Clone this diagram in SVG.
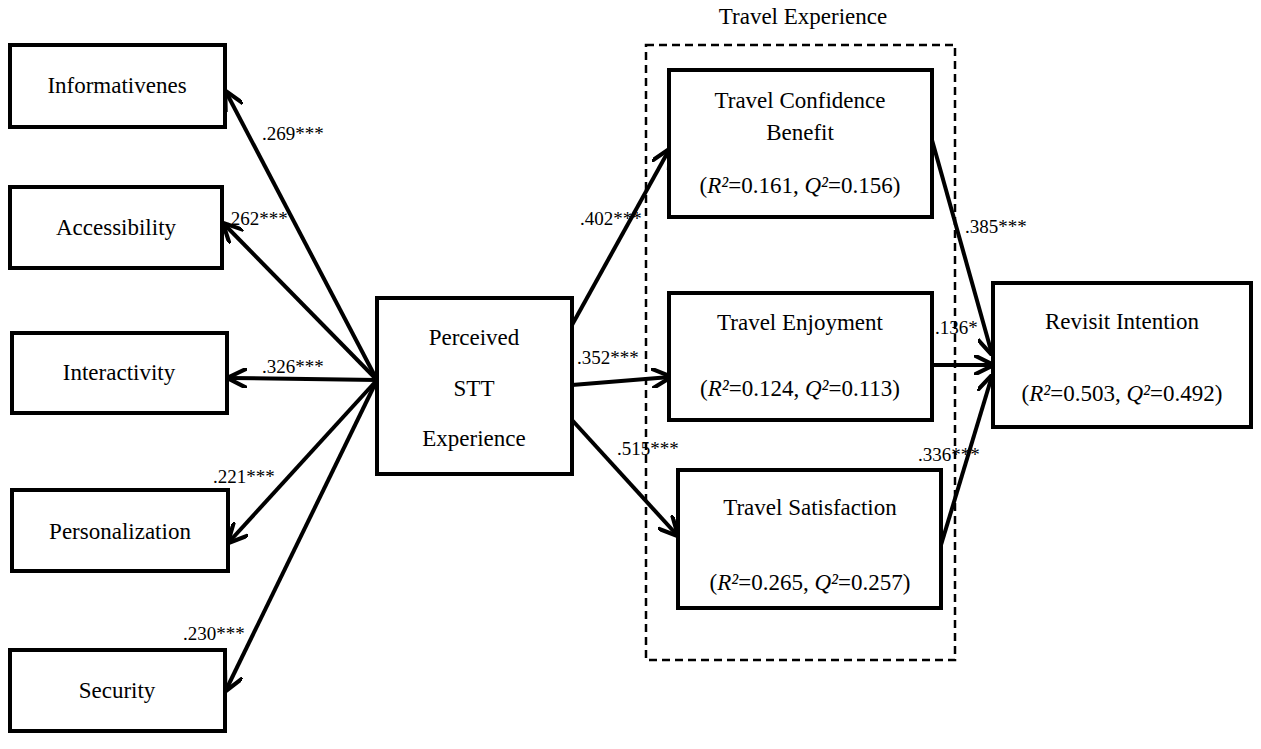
<svg xmlns="http://www.w3.org/2000/svg" width="1261" height="749" viewBox="0 0 1261 749">
<defs>
<style>
.b{fill:#fff;stroke:#000;stroke-width:4}
.t{font-family:'Liberation Serif','Times New Roman',Times,serif;font-size:23px;text-anchor:middle;fill:#000}
.l{font-family:'Liberation Serif','Times New Roman',Times,serif;font-size:19px;fill:#000}
.c{stroke:#000;stroke-width:4;fill:none;marker-end:url(#a)}
</style>
<marker id="a" viewBox="0 0 12 12" refX="11" refY="6" markerWidth="5" markerHeight="5" orient="auto" markerUnits="strokeWidth">
<path d="M0,0 L12,6 L0,12" fill="none" stroke="#000" stroke-width="2.5"/>
</marker>
</defs>
<rect x="646" y="45" width="309" height="615" fill="none" stroke="#000" stroke-width="2.5" stroke-dasharray="8,5"/>
<text class="t" x="803" y="24">Travel Experience</text>
<g id="connectors">
<line class="c" x1="377" y1="380" x2="226" y2="92"/>
<line class="c" x1="377" y1="380" x2="224" y2="224"/>
<line class="c" x1="377" y1="380" x2="229" y2="378"/>
<line class="c" x1="377" y1="380" x2="229" y2="542"/>
<line class="c" x1="377" y1="380" x2="226" y2="690"/>
<line class="c" x1="572" y1="325" x2="669" y2="150"/>
<line class="c" x1="572" y1="385" x2="670" y2="377"/>
<line class="c" x1="572" y1="420" x2="677" y2="535"/>
<line class="c" x1="932" y1="140" x2="992" y2="354"/>
<line class="c" x1="932" y1="365" x2="992" y2="365"/>
<line class="c" x1="941" y1="545" x2="992" y2="376"/>
</g>
<g id="labels">
<text class="l" x="262" y="140">.269***</text>
<text class="l" x="226" y="225">.262***</text>
<text class="l" x="262" y="373">.326***</text>
<text class="l" x="213" y="483">.221***</text>
<text class="l" x="183" y="640">.230***</text>
<text class="l" x="580" y="225">.402***</text>
<text class="l" x="577" y="364">.352***</text>
<text class="l" x="617" y="455">.515***</text>
<text class="l" x="965" y="233">.385***</text>
<text class="l" x="935" y="334">.136*</text>
<text class="l" x="918" y="461">.336***</text>
</g>
<g id="informativenes"><rect class="b" x="10" y="45" width="215" height="82"/><text class="t" x="117" y="93">Informativenes</text></g>
<g id="accessibility"><rect class="b" x="10" y="187" width="212" height="81"/><text class="t" x="116" y="235">Accessibility</text></g>
<g id="interactivity"><rect class="b" x="12" y="333" width="215" height="80"/><text class="t" x="119" y="380">Interactivity</text></g>
<g id="personalization"><rect class="b" x="12" y="490" width="216" height="81"/><text class="t" x="120" y="539">Personalization</text></g>
<g id="security"><rect class="b" x="10" y="650" width="215" height="81"/><text class="t" x="117" y="698">Security</text></g>
<g id="stt"><rect class="b" x="377" y="298" width="195" height="176"/><text class="t" x="474" y="345">Perceived</text><text class="t" x="474" y="396">STT</text><text class="t" x="474" y="446">Experience</text></g>
<g id="confidence"><rect class="b" x="669" y="70" width="263" height="147"/><text class="t" x="800" y="108">Travel Confidence</text><text class="t" x="800" y="140">Benefit</text><text class="t" x="800" y="193">(<tspan font-style="italic">R²</tspan>=0.161, <tspan font-style="italic">Q²</tspan>=0.156)</text></g>
<g id="enjoyment"><rect class="b" x="669" y="293" width="263" height="127"/><text class="t" x="800" y="330">Travel Enjoyment</text><text class="t" x="800" y="396">(<tspan font-style="italic">R²</tspan>=0.124, <tspan font-style="italic">Q²</tspan>=0.113)</text></g>
<g id="satisfaction"><rect class="b" x="678" y="470" width="263" height="138"/><text class="t" x="810" y="515">Travel Satisfaction</text><text class="t" x="810" y="590">(<tspan font-style="italic">R²</tspan>=0.265, <tspan font-style="italic">Q²</tspan>=0.257)</text></g>
<g id="revisit"><rect class="b" x="993" y="283" width="258" height="144"/><text class="t" x="1122" y="329">Revisit Intention</text><text class="t" x="1122" y="401">(<tspan font-style="italic">R²</tspan>=0.503, <tspan font-style="italic">Q²</tspan>=0.492)</text></g>
</svg>
